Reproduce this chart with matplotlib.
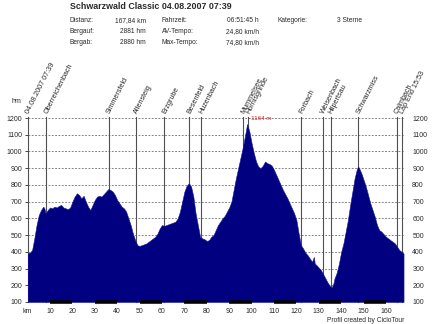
import matplotlib
matplotlib.use("Agg")
import matplotlib.pyplot as plt

plt.rcParams['font.family'] = ['Liberation Sans', 'DejaVu Sans']

# Elevation profile: distance (km) and altitude (m)
dist_km = [0, 1, 2, 3, 4, 5, 6, 7, 7.5, 8, 9, 10, 11, 12, 13, 14, 15, 16, 17, 18,
           19, 20, 21, 22, 23, 24, 25, 26, 27, 28, 29, 30, 31, 32, 33, 34, 35, 36,
           37, 38, 39, 40, 41, 42, 43, 44, 45, 46, 47, 48, 49, 50, 51, 52, 53, 54,
           55, 56, 57, 58, 59, 60, 61, 62, 63, 64, 65, 66, 67, 68, 69, 70, 71, 72,
           73, 74, 75, 76, 77, 78, 79, 80, 81, 82, 83, 84, 85, 86, 87, 88, 89, 90,
           91, 92, 93, 94, 95, 96, 97, 98, 99, 100, 101, 102, 103, 104, 105, 106,
           107, 108, 109, 110, 111, 112, 113, 114, 115, 116, 117, 118, 119, 120,
           121, 122, 123, 124, 125, 126, 127, 127.8, 128.2, 129, 130, 131, 132,
           133, 134, 135, 135.8, 136.5, 137, 138, 139, 140, 141, 142, 143, 144,
           145, 146, 147, 147.6, 148, 149, 150, 151, 152, 153, 154, 155, 156, 157,
           158, 159, 160, 161, 162, 163, 164, 165, 166, 167, 167.84]
altitude_m = [390, 395, 410, 480, 560, 620, 650, 670, 660, 630, 650, 665, 660, 670,
              665, 675, 680, 665, 660, 655, 665, 700, 730, 750, 740, 720, 735, 700,
              670, 650, 680, 710, 730, 735, 730, 745, 760, 775, 770, 760, 740, 710,
              690, 670, 660, 640, 600, 560, 510, 470, 440, 435, 440, 445, 450, 460,
              470, 480, 490, 510, 540, 560, 555, 560, 565, 570, 575, 580, 600, 640,
              700, 760, 795, 810, 790, 730, 630, 560, 490, 480, 475, 465, 470, 490,
              500, 530, 560, 580, 600, 615, 640, 665, 700, 770, 840, 900, 960, 1020,
              1090, 1164, 1120, 1050, 990, 940, 910, 900, 915, 940, 930, 925, 915,
              890, 860, 830, 800, 770, 745, 720, 690, 660, 630, 590, 510, 440, 420,
              395, 380, 360, 340, 370, 330, 320, 305, 290, 265, 240, 215, 195, 188,
              210, 240, 275, 330, 400, 450, 520, 590, 680, 760, 840, 895, 910, 900,
              870, 830, 790, 740, 690, 650, 610, 560, 530, 520, 505, 490, 480, 470,
              460, 450, 430, 410, 400, 390]

# Waypoints along the route
waypoint_km = [0, 8.2, 36.2, 48.3, 61.0, 72.2, 77.6, 96.3, 98.3, 121.9, 131.7,
               135.3, 147.5, 164.8, 167.3]
waypoint_names = ["04.08.2007 07:39", "Oberreichenbach", "Simmersfeld", "Altensteig",
                  "Erzgrube", "Besenfeld", "Huzenbach", "Mummelsee", "Hornisgrinde",
                  "Forbach", "Weisenbach", "Hilpertsau", "Schwarzmiss", "Calmbach",
                  "Lap End 15:53"]

peak_km = 98.3
peak_label = "-1164 m"

y_ticks = list(range(100, 1300, 100))
x_ticks = list(range(0, 170, 10))
x_ticklabels = ["km"] + [str(v) for v in range(10, 170, 10)]

title = "Schwarzwald Classic 04.08.2007 07:39"
info_rows = [
    ("Distanz:", "167,84 km", "Fahrzeit:", "06:51:45 h", "Kategorie:", "3 Sterne"),
    ("Bergauf:", "2881 hm", "AV-Tempo:", "24,80 km/h", "", ""),
    ("Bergab:", "2880 hm", "Max-Tempo:", "74,80 km/h", "", ""),
]
footer = "Profil created by CicloTour"

W, H = 432, 324
fig = plt.figure(figsize=(W / 100, H / 100), dpi=100)
fig.patch.set_facecolor("white")

x0, x1 = 27.6, 403.9
y_top, y_bot = 118, 302
ax = fig.add_axes([x0 / W, (H - y_bot) / H, (x1 - x0) / W, (y_bot - y_top) / H])
ax.set_xlim(0, 168)
ax.set_ylim(100, 1200)

text_col = "#2a2a2a"

# horizontal grid
for yv in y_ticks:
    ax.axhline(yv, color="#707070", lw=0.6, ls=(0, (2.2, 1.8)), zorder=1)

# waypoint lines
for wk in waypoint_km:
    ax.plot([wk, wk], [100, 1206], color="#505050", lw=0.8, zorder=2, clip_on=False)

# elevation profile
ax.fill_between(dist_km, 100, altitude_m, color="#000080", lw=0.4,
                edgecolor="#1a1a9a", zorder=3)

# alternating 10 km distance bar
for start in range(10, 170, 20):
    ax.plot([start, min(start + 10, 168)], [100, 100], color="black", lw=2.6,
            solid_capstyle="butt", zorder=5, clip_on=False)

ax.text(peak_km + 0.6, 1200, peak_label, color="#e02020", fontsize=4.5,
        ha="left", va="center", zorder=6)

# waypoint names
for wk, name in zip(waypoint_km, waypoint_names):
    ax.text(wk, 1225, name, rotation=63, rotation_mode="anchor", ha="left",
            va="center", fontsize=5.2, color=text_col, clip_on=False)

ax.set_yticks(y_ticks)
ax.set_xticks(x_ticks)
ax.set_xticklabels(x_ticklabels)
ax.tick_params(axis="y", labelsize=5, colors=text_col, length=2.5, width=0.6, pad=1.5)
ax.tick_params(axis="x", labelsize=5, colors=text_col, length=0, pad=4)
for sp in ax.spines.values():
    sp.set_visible(False)

# altitude labels on the right side
axr = ax.twinx()
axr.set_ylim(ax.get_ylim())
axr.set_yticks(y_ticks)
axr.tick_params(axis="y", labelsize=5, colors=text_col, length=0, pad=6)
for sp in axr.spines.values():
    sp.set_visible(False)

fig.text(70 / W, 1 - 9 / H, title, fontsize=6.4, fontweight="bold", color=text_col,
         ha="left", va="baseline")

row_y = [20.5, 31.3, 42.3]
for yy, row in zip(row_y, info_rows):
    f = 1 - yy / H
    fig.text(70 / W, f, row[0], fontsize=4.8, color=text_col, ha="left", va="center")
    fig.text(146 / W, f, row[1], fontsize=4.8, color=text_col, ha="right", va="center")
    fig.text(162 / W, f, row[2], fontsize=4.8, color=text_col, ha="left", va="center")
    fig.text(259 / W, f, row[3], fontsize=4.8, color=text_col, ha="right", va="center")
    if row[4]:
        fig.text(278 / W, f, row[4], fontsize=4.8, color=text_col, ha="left", va="center")
        fig.text(337 / W, f, row[5], fontsize=4.8, color=text_col, ha="left", va="center")

fig.text(12 / W, 1 - 101 / H, "hm", fontsize=5, color=text_col, ha="left", va="center")
fig.text(404 / W, 1 - 320 / H, footer, fontsize=4.8, color=text_col, ha="right",
         va="center")

fig.savefig("out.png", dpi=100, facecolor="white")
